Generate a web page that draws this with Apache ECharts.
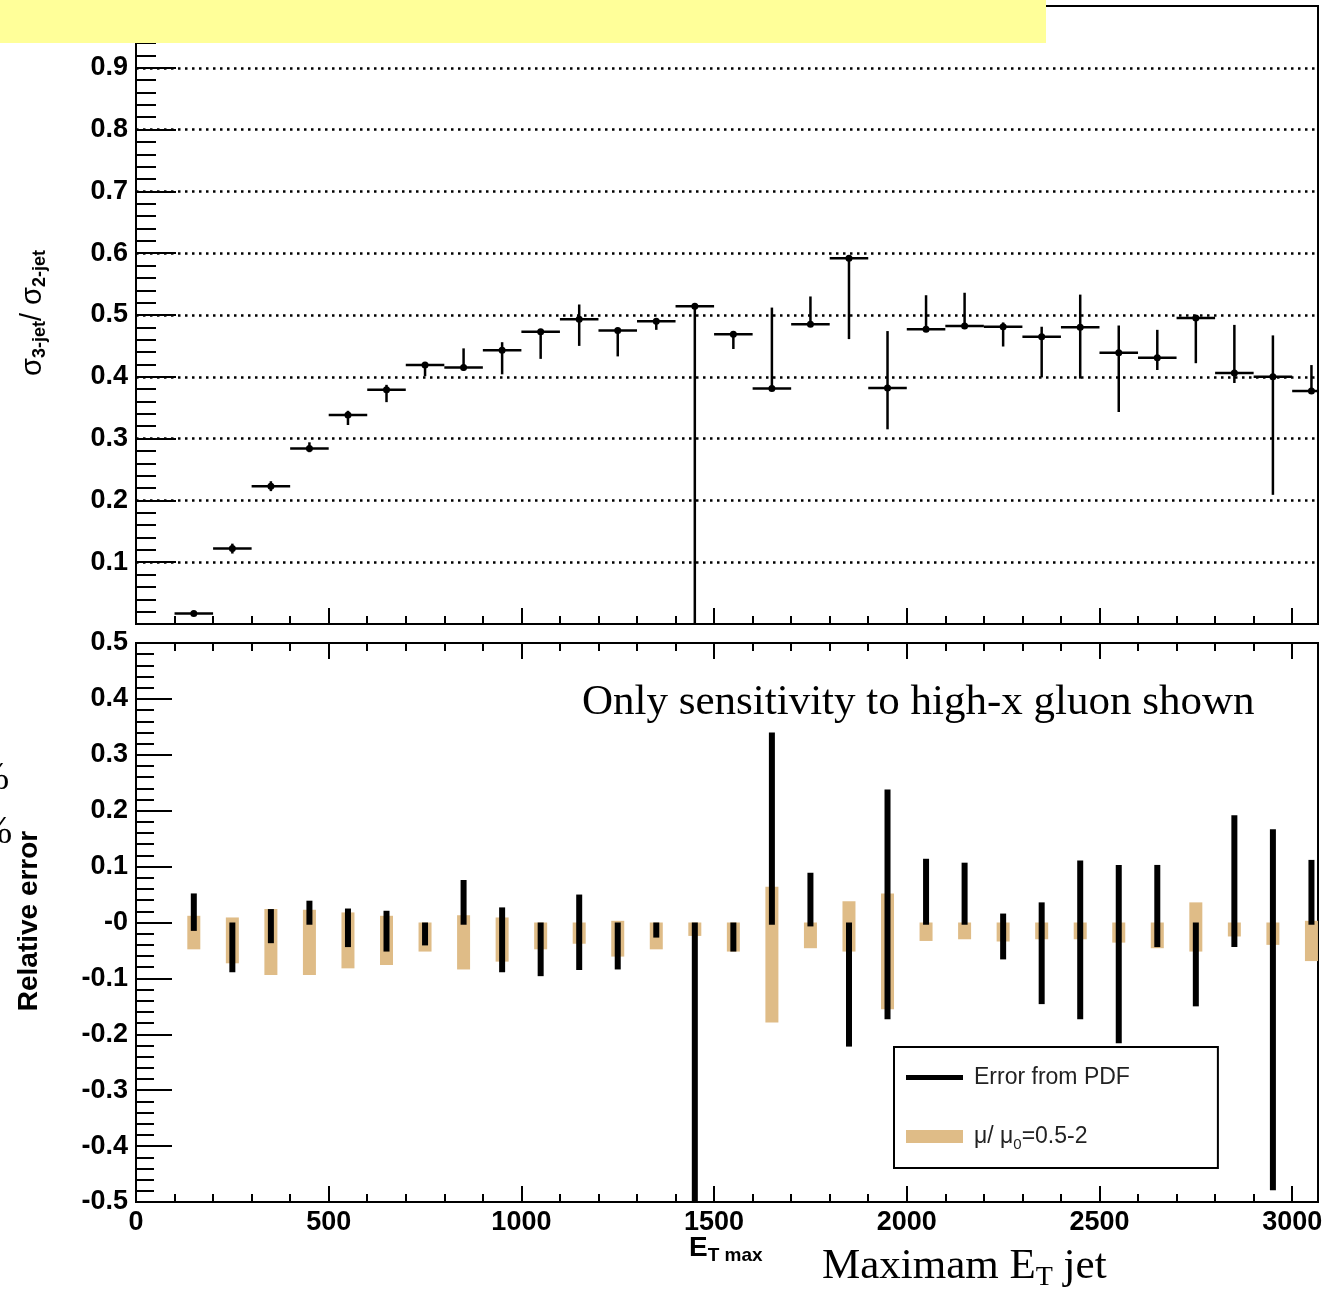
<!DOCTYPE html>
<html>
<head>
<meta charset="utf-8">
<script src="https://cdn.jsdelivr.net/npm/echarts@6.0.0/dist/echarts.min.js"></script>
<style>
  html, body { margin: 0; padding: 0; background: #fff; }
  #main { width: 1332px; height: 1291px; }
</style>
</head>
<body>
<div id="main"></div>
<script>
// bin centres (GeV), bins are 100 wide
var binCenter = [150, 250, 350, 450, 550, 650, 750, 850, 950, 1050,
                 1150, 1250, 1350, 1450, 1550, 1650, 1750, 1850, 1950, 2050,
                 2150, 2250, 2350, 2450, 2550, 2650, 2750, 2850, 2950, 3050];
var binWidth = 100;

// top panel: sigma3/sigma2 ratio with asymmetric errors
var ratio = [0.017, 0.122, 0.223, 0.284, 0.338, 0.379, 0.419, 0.415, 0.443, 0.473,
             0.493, 0.475, 0.490, 0.514, 0.469, 0.381, 0.485, 0.592, 0.382, 0.477,
             0.482, 0.481, 0.465, 0.480, 0.439, 0.431, 0.495, 0.406, 0.400, 0.377];
var ratioErrUp = [0.002, 0.008, 0.008, 0.010, 0.007, 0.008, 0.002, 0.031, 0.013, 0.003,
                  0.024, 0.002, 0.002, 0.002, 0.002, 0.131, 0.045, 0.002, 0.092, 0.055,
                  0.054, 0.007, 0.016, 0.053, 0.044, 0.045, 0.002, 0.078, 0.067, 0.042];
var ratioErrDown = [0.002, 0.008, 0.008, 0.006, 0.016, 0.020, 0.018, 0.005, 0.039, 0.044,
                    0.043, 0.042, 0.014, 0.514, 0.024, 0.002, 0.002, 0.131, 0.067, 0.002,
                    0.002, 0.032, 0.066, 0.083, 0.096, 0.020, 0.073, 0.016, 0.191, 0.002];

// bottom panel: relative errors
var pdfHigh = [0.052, 0.000, 0.024, 0.039, 0.025, 0.021, 0.000, 0.076, 0.027, 0.000,
               0.050, 0.000, 0.000, 0.000, 0.000, 0.340, 0.089, 0.000, 0.238, 0.114,
               0.107, 0.016, 0.036, 0.111, 0.103, 0.103, 0.000, 0.192, 0.167, 0.112];
var pdfLow = [-0.015, -0.089, -0.037, -0.004, -0.044, -0.052, -0.041, -0.004, -0.089, -0.096,
              -0.085, -0.084, -0.027, -0.550, -0.052, -0.004, -0.007, -0.222, -0.173, -0.004,
              -0.004, -0.066, -0.146, -0.173, -0.216, -0.044, -0.150, -0.044, -0.479, -0.004];
var scaleHigh = [0.012, 0.009, 0.024, 0.023, 0.018, 0.012, 0.000, 0.013, 0.009, 0.000,
                 0.000, 0.003, 0.000, 0.000, 0.000, 0.064, 0.000, 0.038, 0.052, 0.000,
                 0.000, 0.000, 0.000, 0.000, 0.000, 0.000, 0.036, 0.000, 0.000, 0.003];
var scaleLow = [-0.048, -0.073, -0.094, -0.094, -0.082, -0.076, -0.052, -0.084, -0.070, -0.048,
                -0.038, -0.061, -0.048, -0.024, -0.052, -0.179, -0.046, -0.052, -0.155, -0.033,
                -0.030, -0.034, -0.030, -0.030, -0.036, -0.046, -0.052, -0.025, -0.040, -0.069];

var xMax = 3067;
var tan = '#dfbc87';
var sans = 'Liberation Sans';
var serif = 'Liberation Serif';

var myChart = echarts.init(document.getElementById('main'));

var ratioData = [], pdfData = [], scaleData = [];
for (var i = 0; i < binCenter.length; i++) {
    ratioData.push([binCenter[i], ratio[i], ratioErrDown[i], ratioErrUp[i]]);
    pdfData.push([binCenter[i], pdfHigh[i], pdfLow[i]]);
    scaleData.push([binCenter[i], scaleHigh[i], scaleLow[i]]);
}

function renderRatio(params, api) {
    var x = api.value(0), y = api.value(1), lo = api.value(2), hi = api.value(3);
    var c = api.coord([x, y]);
    var l = api.coord([Math.max(x - binWidth / 2, 0), y]);
    var r = api.coord([Math.min(x + binWidth / 2, xMax), y]);
    var t = api.coord([x, Math.min(y + hi, 1)]);
    var b = api.coord([x, Math.max(y - lo, 0)]);
    var st = { stroke: '#000', lineWidth: 2.5 };
    return {
        type: 'group',
        children: [
            { type: 'line', shape: { x1: l[0], y1: l[1], x2: r[0], y2: r[1] }, style: st },
            { type: 'line', shape: { x1: t[0], y1: t[1], x2: b[0], y2: b[1] }, style: st },
            { type: 'circle', shape: { cx: c[0], cy: c[1], r: 3.5 }, style: { fill: '#000' } }
        ]
    };
}

function makeBar(width, color) {
    return function(params, api) {
        var x = api.value(0);
        var top = api.coord([x, Math.min(api.value(1), 0.5)]);
        var bot = api.coord([x, Math.max(api.value(2), -0.5)]);
        return {
            type: 'rect',
            shape: { x: top[0] - width / 2, y: top[1], width: width, height: bot[1] - top[1] },
            style: { fill: color }
        };
    };
}

function xAx(grid, interval, len, pos, labels) {
    return {
        type: 'value', gridIndex: grid, min: 0, max: xMax, interval: interval,
        position: pos,
        axisLine: { show: interval === 500, onZero: false, lineStyle: { color: '#000', width: 2 } },
        axisTick: { show: true, inside: true, length: len, lineStyle: { color: '#000', width: 2 } },
        axisLabel: {
            show: labels, margin: 7, color: '#000', fontFamily: sans, fontWeight: 'bold', fontSize: 27,
            formatter: function(v) { return v % 500 === 0 ? String(v) : ''; }
        },
        splitLine: { show: false }
    };
}

var yTick = function(len) {
    return {
        axisLine: { show: true, onZero: false, lineStyle: { color: '#000', width: 2 } },
        axisTick: { show: true, inside: true, length: len, lineStyle: { color: '#000', width: 2 } },
        minorTick: { show: true, splitNumber: 5, length: len / 2, lineStyle: { color: '#000', width: 2 } }
    };
};

var yTop = Object.assign({
    type: 'value', gridIndex: 0, min: 0, max: 1, interval: 0.1,
    axisLabel: {
        margin: 8, color: '#000', fontFamily: sans, fontWeight: 'bold', fontSize: 27,
        formatter: function(v) { return (v > 0.001 && v < 0.999) ? v.toFixed(1) : ''; }
    },
    splitLine: {
        show: true, showMinLine: false, showMaxLine: false,
        lineStyle: { color: '#000', width: 2.5, type: [2.5, 4.5] }
    }
}, yTick(40));

var yBottom = Object.assign({
    type: 'value', gridIndex: 1, min: -0.5, max: 0.5, interval: 0.1,
    axisLabel: {
        margin: 8, color: '#000', fontFamily: sans, fontWeight: 'bold', fontSize: 27,
        formatter: function(v) { return Math.abs(v) < 1e-9 ? '-0' : v.toFixed(1); }
    },
    splitLine: { show: false }
}, yTick(36));

var option = {
    backgroundColor: '#fff',
    animation: false,
    textStyle: { fontFamily: sans },
    grid: [
        { left: 136, right: 14, top: 6, height: 618, show: true, borderColor: '#000', borderWidth: 2 },
        { left: 136, right: 14, top: 643, height: 559, show: true, borderColor: '#000', borderWidth: 2 }
    ],
    xAxis: [
        xAx(0, 500, 16, 'bottom', false),
        xAx(0, 100, 8, 'bottom', false),
        xAx(1, 500, 16, 'bottom', true),
        xAx(1, 100, 8, 'bottom', false),
        xAx(1, 500, 16, 'top', false),
        xAx(1, 100, 8, 'top', false)
    ],
    yAxis: [yTop, yBottom],
    legend: {
        left: 894, top: 1047, orient: 'vertical',
        padding: [19, 88, 16, 12], itemGap: 36,
        itemWidth: 57, itemHeight: 13,
        borderColor: '#000', borderWidth: 2,
        selectedMode: false,
        textStyle: {
            fontFamily: sans, fontSize: 23, color: '#222', padding: [0, 0, 0, 6],
            rich: {
                a: { fontFamily: sans, fontSize: 23, color: '#222' },
                s: { fontFamily: sans, fontSize: 15, color: '#222', verticalAlign: 'bottom', padding: [16, 0, 0, 0] }
            }
        },
        formatter: function(name) {
            if (name.indexOf('μ') === 0) return '{a|μ/ μ}{s|0}{a|=0.5-2}';
            return name;
        },
        data: [
            { name: 'Error from PDF', icon: 'path://M0,0L57,0L57,5L0,5Z', itemStyle: { color: '#000' } },
            { name: 'μ/μ0=0.5-2', icon: 'rect', itemStyle: { color: tan } }
        ]
    },
    series: [
        {
            name: 'ratio', type: 'custom', xAxisIndex: 0, yAxisIndex: 0,
            data: ratioData, renderItem: renderRatio, silent: true, z: 5
        },
        {
            name: 'μ/μ0=0.5-2', type: 'custom', xAxisIndex: 2, yAxisIndex: 1,
            data: scaleData, renderItem: makeBar(13, tan), itemStyle: { color: tan }, silent: true, z: 4
        },
        {
            name: 'Error from PDF', type: 'custom', xAxisIndex: 2, yAxisIndex: 1,
            data: pdfData, renderItem: makeBar(6, '#000'), itemStyle: { color: '#000' }, silent: true, z: 5
        }
    ],
    graphic: [
        { type: 'rect', shape: { x: 0, y: 0, width: 1046, height: 43 }, style: { fill: '#ffff99' }, z: 100 },
        {
            type: 'text', x: 33, y: 313, rotation: Math.PI / 2,
            style: {
                text: '{g|σ}{s|3-jet}{g|/ σ}{s|2-jet}', align: 'center', verticalAlign: 'middle',
                rich: {
                    g: { fontFamily: sans, fontSize: 29, fill: '#000' },
                    s: { fontFamily: sans, fontSize: 18, fontWeight: 'bold', fill: '#000', verticalAlign: 'bottom', padding: [14, 0, 0, 0] }
                }
            }
        },
        {
            type: 'text', x: 29, y: 921, rotation: Math.PI / 2,
            style: { text: 'Relative error', font: 'bold 28px "Liberation Sans"', fill: '#000', align: 'center', verticalAlign: 'middle' }
        },
        {
            type: 'text', x: 582, y: 703,
            style: { text: 'Only sensitivity to high-x gluon shown', font: '43px "Liberation Serif"', fill: '#000', align: 'left', verticalAlign: 'middle' }
        },
        {
            type: 'text', x: 822, y: 1267,
            style: {
                text: '{m|Maximam E}{s|T}{m| jet}', align: 'left', verticalAlign: 'middle',
                rich: {
                    m: { fontFamily: serif, fontSize: 43, fill: '#000' },
                    s: { fontFamily: serif, fontSize: 28, fill: '#000', verticalAlign: 'bottom', padding: [22, 0, 0, 0] }
                }
            }
        },
        {
            type: 'text', x: 689, y: 1248,
            style: {
                text: '{e|E}{s|T max}', align: 'left', verticalAlign: 'middle',
                rich: {
                    e: { fontFamily: sans, fontSize: 28, fontWeight: 'bold', fill: '#000' },
                    s: { fontFamily: sans, fontSize: 19, fontWeight: 'bold', fill: '#000', verticalAlign: 'bottom', padding: [16, 0, 0, 0] }
                }
            }
        },
        { type: 'text', x: -24, y: 778, style: { text: '%', font: '40px "Liberation Serif"', fill: '#000', verticalAlign: 'middle' } },
        { type: 'text', x: -21, y: 832, style: { text: '%', font: '40px "Liberation Serif"', fill: '#000', verticalAlign: 'middle' } }
    ]
};

myChart.setOption(option);
</script>
</body>
</html>
